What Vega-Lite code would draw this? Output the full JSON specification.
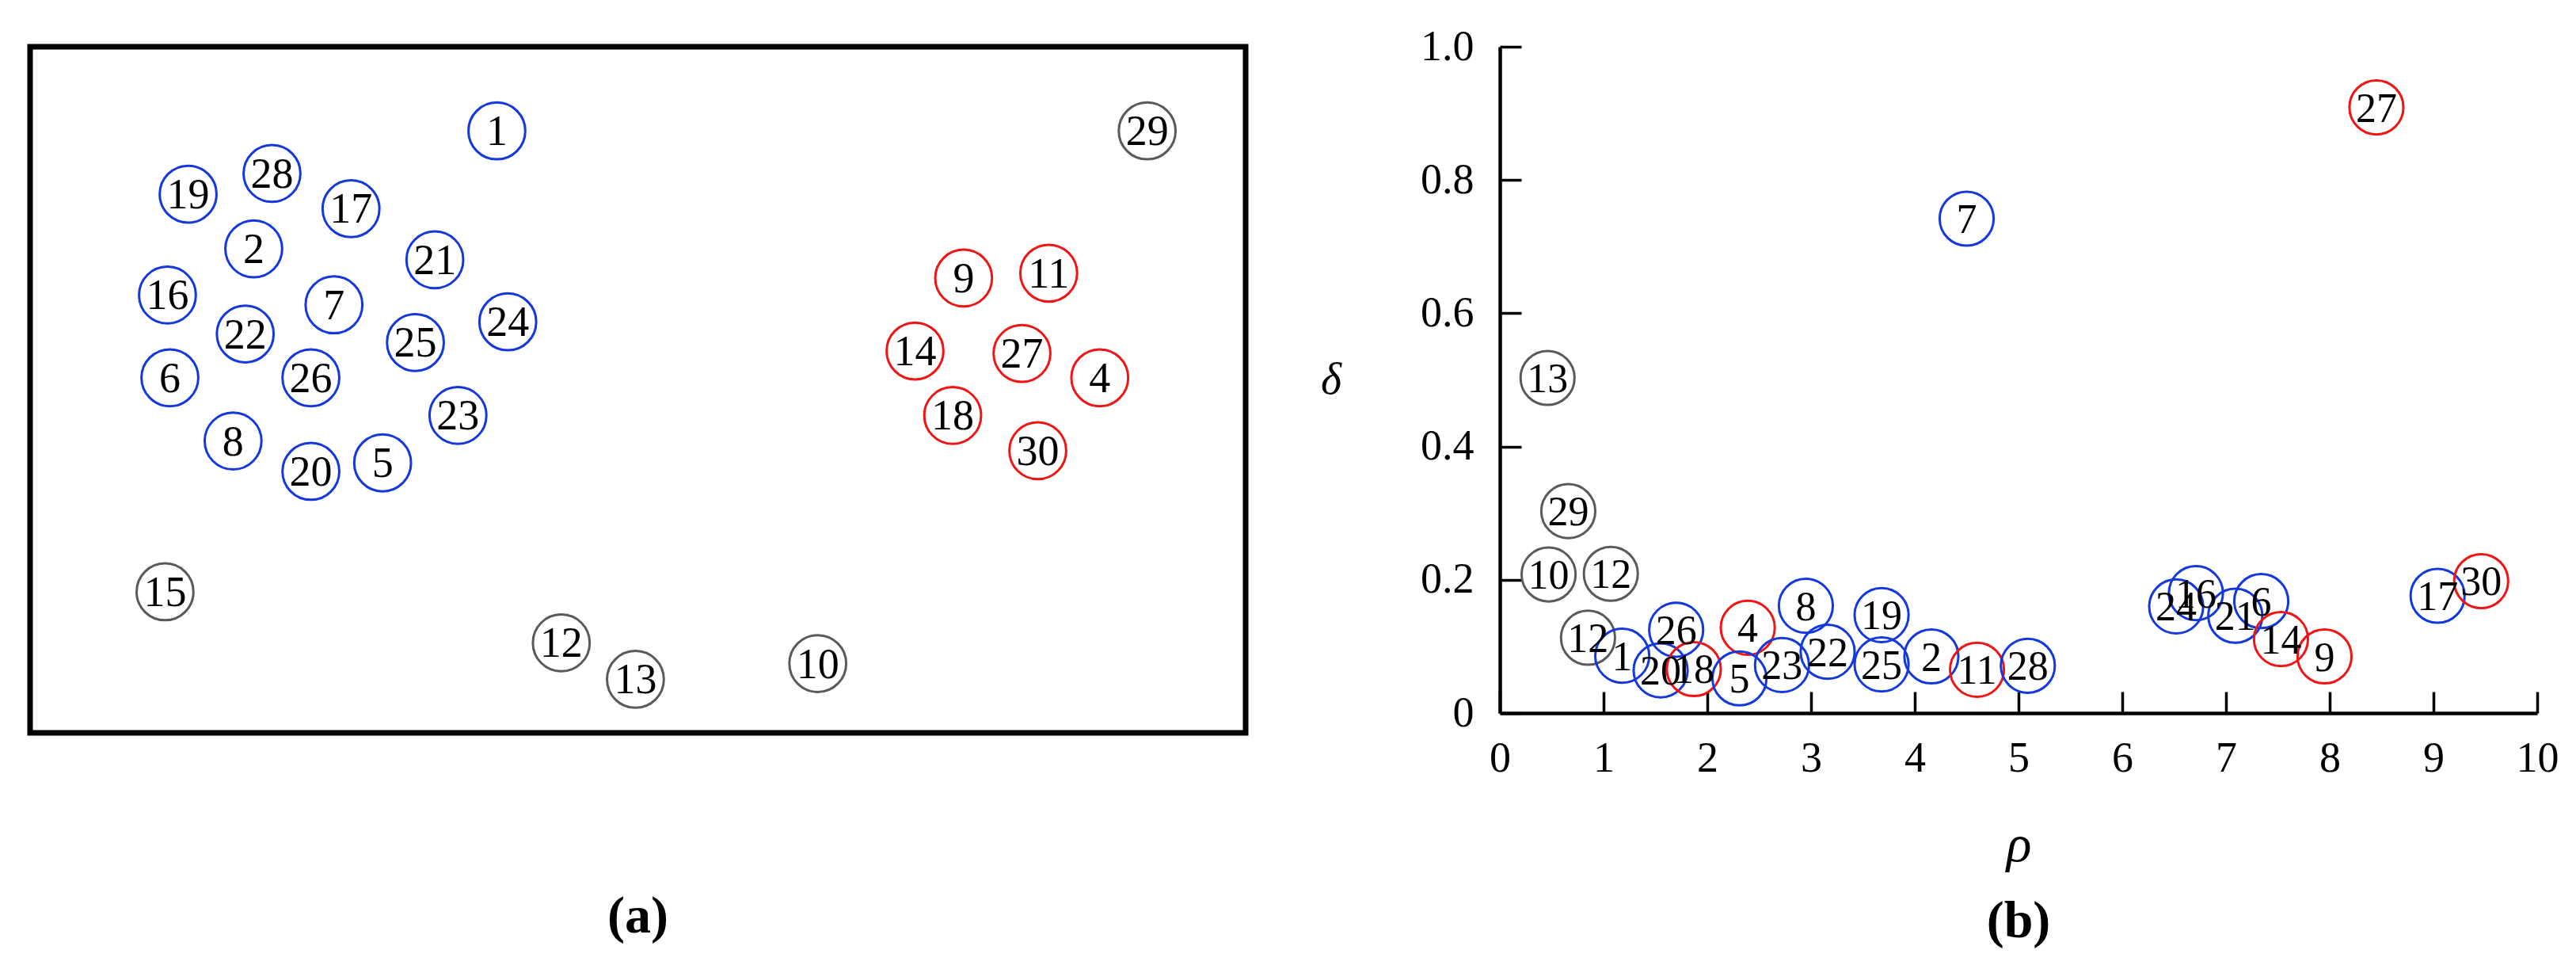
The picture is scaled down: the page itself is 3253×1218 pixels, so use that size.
{
  "$schema": "https://vega.github.io/schema/vega-lite/v6.json",
  "background": "white",
  "padding": {"left": 34, "top": 32, "right": 10, "bottom": 10},
  "config": {"view": {"stroke": null}, "font": "Liberation Serif"},
  "spacing": 321,
  "bounds": "flush",
  "datasets": {
    "a": [
      {"id": 1, "label": "1", "group": "cluster 1", "x": 38.4, "y": 49.5},
      {"id": 29, "label": "29", "group": "noise", "x": 91.9, "y": 49.5},
      {"id": 28, "label": "28", "group": "cluster 1", "x": 19.9, "y": 46.0},
      {"id": 19, "label": "19", "group": "cluster 1", "x": 13.0, "y": 44.3},
      {"id": 17, "label": "17", "group": "cluster 1", "x": 26.4, "y": 43.1},
      {"id": 2, "label": "2", "group": "cluster 1", "x": 18.4, "y": 39.8},
      {"id": 21, "label": "21", "group": "cluster 1", "x": 33.3, "y": 38.9},
      {"id": 16, "label": "16", "group": "cluster 1", "x": 11.3, "y": 36.0},
      {"id": 7, "label": "7", "group": "cluster 1", "x": 25.0, "y": 35.2},
      {"id": 24, "label": "24", "group": "cluster 1", "x": 39.3, "y": 33.8},
      {"id": 22, "label": "22", "group": "cluster 1", "x": 17.7, "y": 32.8},
      {"id": 25, "label": "25", "group": "cluster 1", "x": 31.7, "y": 32.1},
      {"id": 6, "label": "6", "group": "cluster 1", "x": 11.5, "y": 29.2},
      {"id": 26, "label": "26", "group": "cluster 1", "x": 23.1, "y": 29.2},
      {"id": 23, "label": "23", "group": "cluster 1", "x": 35.2, "y": 26.1},
      {"id": 8, "label": "8", "group": "cluster 1", "x": 16.7, "y": 24.0},
      {"id": 20, "label": "20", "group": "cluster 1", "x": 23.1, "y": 21.5},
      {"id": 5, "label": "5", "group": "cluster 1", "x": 29.0, "y": 22.2},
      {"id": 9, "label": "9", "group": "cluster 2", "x": 76.8, "y": 37.4},
      {"id": 11, "label": "11", "group": "cluster 2", "x": 83.8, "y": 37.8},
      {"id": 14, "label": "14", "group": "cluster 2", "x": 72.8, "y": 31.4},
      {"id": 27, "label": "27", "group": "cluster 2", "x": 81.6, "y": 31.2},
      {"id": 4, "label": "4", "group": "cluster 2", "x": 88.0, "y": 29.2},
      {"id": 18, "label": "18", "group": "cluster 2", "x": 75.9, "y": 26.1},
      {"id": 30, "label": "30", "group": "cluster 2", "x": 82.9, "y": 23.2},
      {"id": 15, "label": "15", "group": "noise", "x": 11.1, "y": 11.6},
      {"id": 12, "label": "12", "group": "noise", "x": 43.7, "y": 7.4},
      {"id": 13, "label": "13", "group": "noise", "x": 49.8, "y": 4.4},
      {"id": 10, "label": "10", "group": "noise", "x": 64.8, "y": 5.7}
    ],
    "b": [
      {"label": "27", "group": "cluster 2", "rho": 8.45, "delta": 0.909},
      {"label": "7", "group": "cluster 1", "rho": 4.50, "delta": 0.742},
      {"label": "13", "group": "noise", "rho": 0.46, "delta": 0.503},
      {"label": "29", "group": "noise", "rho": 0.66, "delta": 0.303},
      {"label": "10", "group": "noise", "rho": 0.47, "delta": 0.208},
      {"label": "12", "group": "noise", "rho": 1.07, "delta": 0.209},
      {"label": "12", "group": "noise", "rho": 0.85, "delta": 0.113},
      {"label": "1", "group": "cluster 1", "rho": 1.18, "delta": 0.086},
      {"label": "20", "group": "cluster 1", "rho": 1.55, "delta": 0.064},
      {"label": "26", "group": "cluster 1", "rho": 1.70, "delta": 0.125},
      {"label": "18", "group": "cluster 2", "rho": 1.87, "delta": 0.066},
      {"label": "4", "group": "cluster 2", "rho": 2.39, "delta": 0.128},
      {"label": "5", "group": "cluster 1", "rho": 2.31, "delta": 0.052},
      {"label": "23", "group": "cluster 1", "rho": 2.72, "delta": 0.072},
      {"label": "8", "group": "cluster 1", "rho": 2.95, "delta": 0.161},
      {"label": "22", "group": "cluster 1", "rho": 3.16, "delta": 0.092},
      {"label": "19", "group": "cluster 1", "rho": 3.68, "delta": 0.147},
      {"label": "25", "group": "cluster 1", "rho": 3.68, "delta": 0.073},
      {"label": "2", "group": "cluster 1", "rho": 4.16, "delta": 0.085},
      {"label": "11", "group": "cluster 2", "rho": 4.60, "delta": 0.065},
      {"label": "28", "group": "cluster 1", "rho": 5.09, "delta": 0.071},
      {"label": "24", "group": "cluster 1", "rho": 6.52, "delta": 0.160},
      {"label": "16", "group": "cluster 1", "rho": 6.71, "delta": 0.180},
      {"label": "21", "group": "cluster 1", "rho": 7.09, "delta": 0.146},
      {"label": "6", "group": "cluster 1", "rho": 7.34, "delta": 0.168},
      {"label": "14", "group": "cluster 2", "rho": 7.53, "delta": 0.111},
      {"label": "9", "group": "cluster 2", "rho": 7.95, "delta": 0.085},
      {"label": "17", "group": "cluster 1", "rho": 9.04, "delta": 0.176},
      {"label": "30", "group": "cluster 2", "rho": 9.46, "delta": 0.198}
    ]
  },
  "hconcat": [
    {
      "width": 1535,
      "height": 866,
      "view": {"stroke": "black", "strokeWidth": 7},
      "title": {"text": "(a)", "orient": "bottom", "anchor": "middle", "offset": 200, "fontSize": 66, "fontWeight": "bold", "font": "Liberation Serif", "color": "black"},
      "data": {"name": "a"},
      "encoding": {
        "x": {"field": "x", "type": "quantitative", "scale": {"domain": [0, 100], "nice": false}, "axis": null},
        "y": {"field": "y", "type": "quantitative", "scale": {"domain": [0, 56.42], "nice": false}, "axis": null}
      },
      "layer": [
        {
          "mark": {"type": "point", "shape": "circle", "filled": false, "strokeWidth": 3, "size": 5150, "opacity": 1},
          "encoding": {
            "color": {"field": "group", "type": "nominal", "scale": {"domain": ["cluster 1", "cluster 2", "noise"], "range": ["#1438dc", "#f01414", "#5a5a5a"]}, "legend": null}
          }
        },
        {
          "mark": {"type": "text", "fontSize": 54, "font": "Liberation Serif", "color": "black", "baseline": "middle", "align": "center", "dy": 2},
          "encoding": {"text": {"field": "label"}}
        }
      ]
    },
    {
      "width": 1310,
      "height": 841,
      "title": {"text": "(b)", "orient": "bottom", "anchor": "middle", "offset": 32, "fontSize": 66, "fontWeight": "bold", "font": "Liberation Serif", "color": "black"},
      "data": {"name": "b"},
      "encoding": {
        "x": {
          "field": "rho", "type": "quantitative",
          "scale": {"domain": [0, 10], "nice": false},
          "axis": {
            "title": "ρ", "values": [0, 1, 2, 3, 4, 5, 6, 7, 8, 9, 10], "grid": false,
            "domainColor": "black", "domainWidth": 4.5,
            "tickColor": "black", "tickWidth": 3.5, "tickSize": -27,
            "labelPadding": 57, "labelFontSize": 54, "labelFont": "Liberation Serif", "labelColor": "black",
            "labelFlush": false, "labelOverlap": false,
            "titleFont": "Liberation Serif", "titleFontStyle": "italic", "titleFontWeight": "normal",
            "titleFontSize": 66, "titlePadding": 50, "titleColor": "black"
          }
        },
        "y": {
          "field": "delta", "type": "quantitative",
          "scale": {"domain": [0, 1], "nice": false},
          "axis": {
            "title": "δ", "values": [0, 0.2, 0.4, 0.6, 0.8, 1.0], "grid": false,
            "labelExpr": "datum.value == 0 ? '0' : format(datum.value, '.1f')",
            "domainColor": "black", "domainWidth": 4.5,
            "tickColor": "black", "tickWidth": 3.5, "tickSize": -27,
            "labelPadding": 60, "labelFontSize": 54, "labelFont": "Liberation Serif", "labelColor": "black",
            "labelFlush": false, "labelOverlap": false,
            "titleAngle": 0, "titleAlign": "center", "titleBaseline": "middle",
            "titleFont": "Liberation Serif", "titleFontStyle": "italic", "titleFontWeight": "normal",
            "titleFontSize": 56, "titlePadding": 113, "titleColor": "black"
          }
        }
      },
      "layer": [
        {
          "mark": {"type": "point", "shape": "circle", "filled": false, "strokeWidth": 3, "size": 4650, "opacity": 1},
          "encoding": {
            "color": {"field": "group", "type": "nominal", "scale": {"domain": ["cluster 1", "cluster 2", "noise"], "range": ["#1438dc", "#f01414", "#5a5a5a"]}, "legend": null}
          }
        },
        {
          "mark": {"type": "text", "fontSize": 52, "font": "Liberation Serif", "color": "black", "baseline": "middle", "align": "center", "dy": 2},
          "encoding": {"text": {"field": "label"}}
        }
      ]
    }
  ]
}
